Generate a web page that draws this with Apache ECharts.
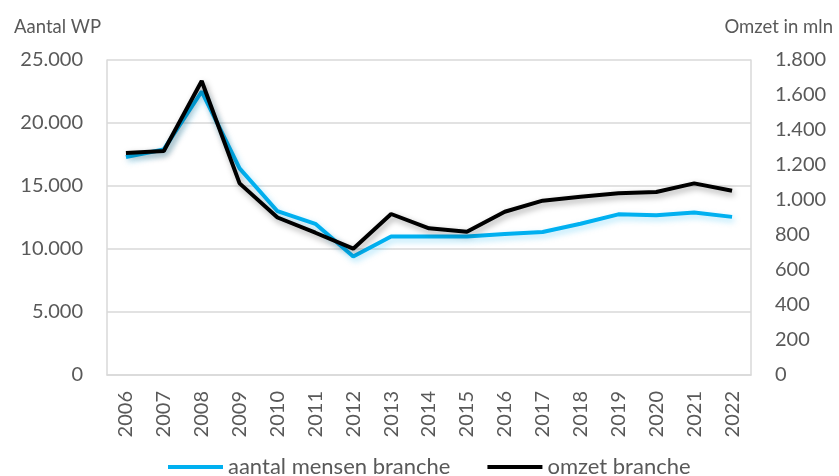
<!DOCTYPE html>
<html>
<head>
<meta charset="utf-8">
<script src="https://cdn.jsdelivr.net/npm/echarts@6/dist/echarts.min.js"></script>
<style>
  html, body { margin: 0; padding: 0; background: #fff; }
  #main { width: 839px; height: 476px; }
</style>
</head>
<body>
<div id="main"></div>
<script>
  // jaren op de x-as
  var years = ['2006','2007','2008','2009','2010','2011','2012','2013','2014','2015','2016','2017','2018','2019','2020','2021','2022'];
  // aantal werkzame personen (linker as)
  var aantalMensen = [17300, 17900, 22500, 16400, 13000, 12000, 9400, 11000, 11000, 11000, 11200, 11350, 12000, 12750, 12680, 12900, 12550];
  // omzet in mln (rechter as)
  var omzet = [1268, 1280, 1680, 1095, 900, 813, 722, 920, 838, 819, 933, 996, 1019, 1038, 1046, 1095, 1053];

  var textColor = '#595959';
  var font = 'Lato';

  function dots(v) {
    return String(v).replace(/\B(?=(\d{3})+(?!\d))/g, '.');
  }

  var myChart = echarts.init(document.getElementById('main'));
  var option = {
    animation: false,
    textStyle: { fontFamily: font, color: textColor },
    title: [
      { text: 'Aantal WP', left: 9, top: 13, textStyle: { fontFamily: font, fontSize: 18.5, fontWeight: 'normal', color: textColor } },
      { text: 'Omzet in mln', right: 1, top: 13, textStyle: { fontFamily: font, fontSize: 18.5, fontWeight: 'normal', color: textColor } }
    ],
    grid: { left: 107, right: 88, top: 60, bottom: 101 },
    legend: {
      left: 163,
      top: 451,
      icon: 'rect',
      itemWidth: 55,
      itemHeight: 4,
      itemGap: 37,
      textStyle: { fontFamily: font, fontSize: 22, color: textColor },
      data: ['aantal mensen branche', 'omzet branche']
    },
    xAxis: {
      type: 'category',
      data: years,
      axisLine: { lineStyle: { color: '#d9d9d9', width: 1.5 } },
      axisTick: { interval: 0, length: 8, lineStyle: { color: '#d9d9d9', width: 1.5 } },
      axisLabel: { rotate: 90, interval: 0, margin: 16, fontSize: 20, color: textColor, fontFamily: font }
    },
    yAxis: [
      {
        type: 'value',
        min: 0, max: 25000, interval: 5000,
        axisLine: { show: true, lineStyle: { color: '#d9d9d9', width: 1.5 } },
        axisTick: { show: false },
        splitLine: { lineStyle: { color: '#d9d9d9', width: 1.5 } },
        axisLabel: { margin: 24, fontSize: 20, color: textColor, fontFamily: font, formatter: dots }
      },
      {
        type: 'value',
        min: 0, max: 1800, interval: 200,
        axisLine: { show: true, lineStyle: { color: '#d9d9d9', width: 1.5 } },
        axisTick: { show: false },
        splitLine: { show: false },
        axisLabel: { margin: 24, fontSize: 20, color: textColor, fontFamily: font, formatter: dots }
      }
    ],
    series: [
      {
        name: 'aantal mensen branche',
        type: 'line',
        yAxisIndex: 0,
        data: aantalMensen,
        symbol: 'none',
        color: '#00b0f0',
        lineStyle: { width: 4, color: '#00b0f0', shadowColor: 'rgba(0,176,240,0.35)', shadowBlur: 6, shadowOffsetX: 2, shadowOffsetY: 3 }
      },
      {
        name: 'omzet branche',
        type: 'line',
        yAxisIndex: 1,
        data: omzet,
        symbol: 'none',
        color: '#000000',
        lineStyle: { width: 4, color: '#000000', shadowColor: 'rgba(0,0,0,0.35)', shadowBlur: 6, shadowOffsetX: 2, shadowOffsetY: 3 }
      }
    ]
  };
  myChart.setOption(option);
</script>
</body>
</html>
